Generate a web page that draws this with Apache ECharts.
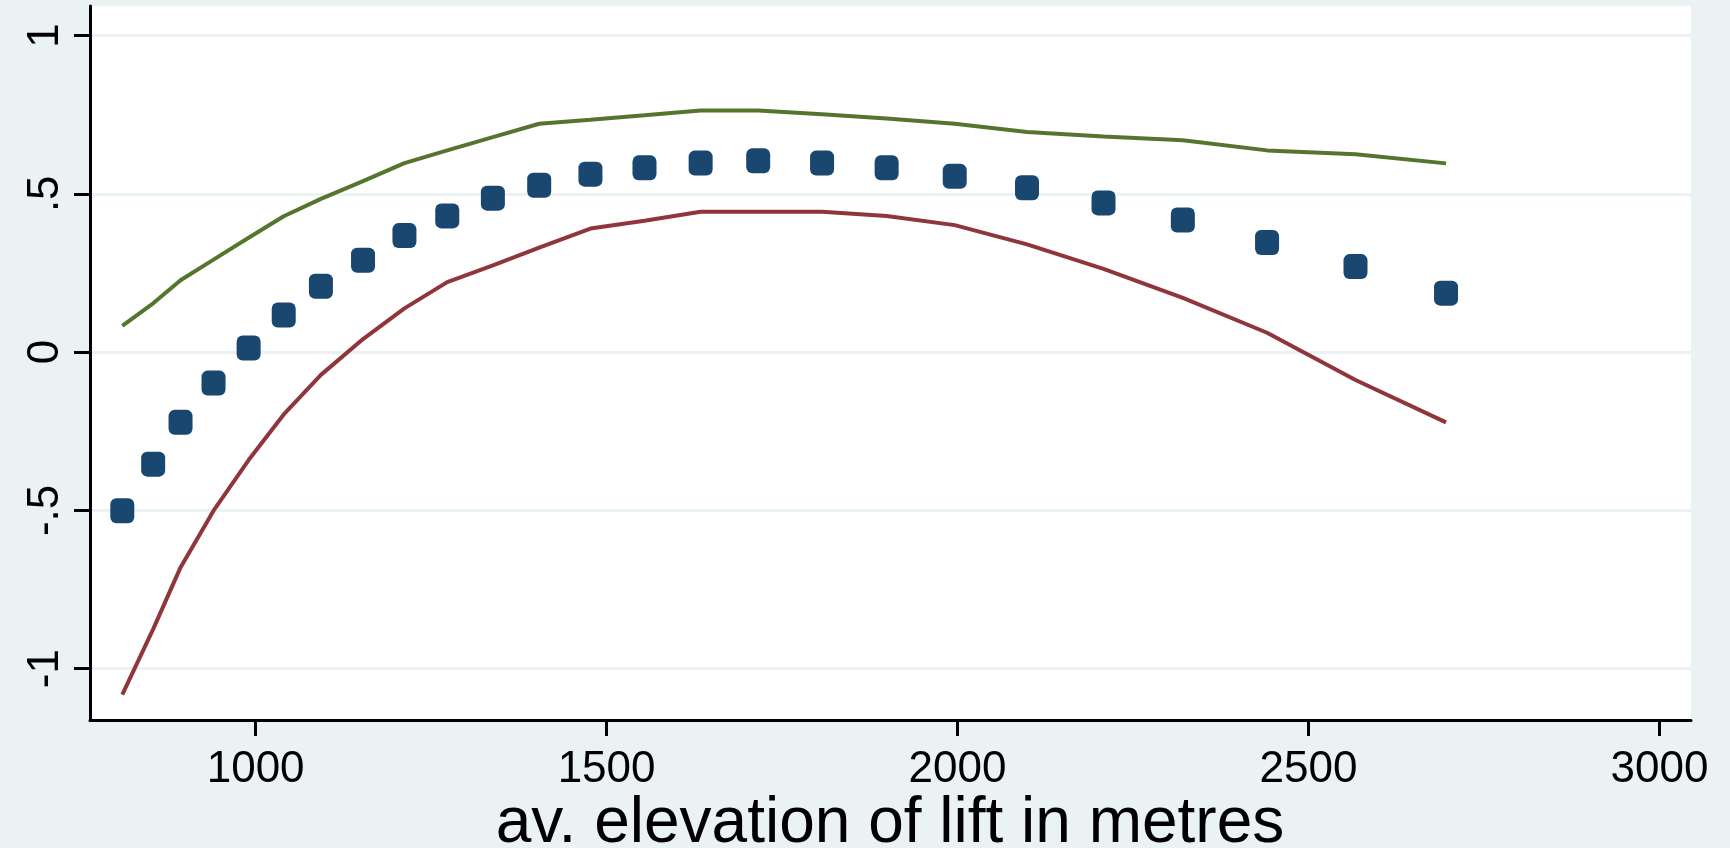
<!DOCTYPE html>
<html>
<head>
<meta charset="utf-8">
<script src="https://cdn.jsdelivr.net/npm/echarts@6/dist/echarts.min.js"></script>
<style>
html,body{margin:0;padding:0;background:#EAF2F3;}
#chart{width:1730px;height:848px;}
</style>
</head>
<body>
<div id="chart"></div>
<script>
// elevation (x) values shared by all series
const elevation = [810, 854, 893, 940, 990, 1040, 1093, 1153, 1212, 1273, 1338, 1404, 1477, 1554, 1634, 1716, 1807, 1899, 1996, 2099, 2208, 2321, 2441, 2567, 2696];
// point estimates (blue markers)
const estimate = [-0.501, -0.354, -0.222, -0.098, 0.013, 0.117, 0.208, 0.290, 0.368, 0.430, 0.486, 0.527, 0.562, 0.582, 0.597, 0.604, 0.597, 0.582, 0.555, 0.519, 0.471, 0.417, 0.346, 0.270, 0.186];
// upper bound (green line)
const upper = [0.083, 0.154, 0.227, 0.292, 0.361, 0.429, 0.484, 0.540, 0.597, 0.637, 0.679, 0.721, 0.734, 0.748, 0.763, 0.763, 0.751, 0.738, 0.721, 0.695, 0.681, 0.669, 0.637, 0.625, 0.596];
// lower bound (red line)
const lower = [-1.082, -0.875, -0.680, -0.501, -0.341, -0.197, -0.072, 0.041, 0.138, 0.221, 0.274, 0.330, 0.390, 0.415, 0.443, 0.443, 0.443, 0.430, 0.401, 0.340, 0.263, 0.171, 0.061, -0.088, -0.222];
// tick values
const xTicks = [1000, 1500, 2000, 2500, 3000];
const yTicks = [-1, -0.5, 0, 0.5, 1];
const xTitle = 'av. elevation of lift in metres';

function pairs(ys){ return elevation.map((x,i)=>[x, ys[i]]); }
function yFmt(v){
  let s = String(Math.round(v*10)/10);
  return s.replace('0.', '.');
}

const chart = echarts.init(document.getElementById('chart'), null, {renderer:'canvas'});
const font = '"Liberation Sans", Arial, Helvetica, sans-serif';
chart.setOption({
  animation: false,
  backgroundColor: '#EAF2F3',
  grid: {
    left: 90, right: 39, top: 6, bottom: 128,
    containLabel: false, outerBoundsMode: 'none',
    show: true, backgroundColor: '#ffffff', borderWidth: 0
  },
  graphic: [{
    type: 'text',
    x: 890, y: 824,
    silent: true,
    style: {
      text: xTitle,
      fill: '#000',
      fontSize: 64,
      fontFamily: font,
      align: 'center',
      verticalAlign: 'middle'
    }
  }],
  xAxis: {
    type: 'value',
    min: 764, max: 3045,
    axisLine: {show: true, onZero: false, lineStyle: {color: '#000', width: 3}},
    axisTick: {show: true, length: 16, lineStyle: {color: '#000', width: 3}, customValues: xTicks},
    axisLabel: {color: '#000', fontSize: 44, fontFamily: font, margin: 28, customValues: xTicks,
      formatter: v => String(v)},
    splitLine: {show: false}
  },
  yAxis: {
    type: 'value',
    min: -1.162, max: 1.093,
    axisLine: {show: true, onZero: false, lineStyle: {color: '#000', width: 3}},
    axisTick: {show: true, length: 16, lineStyle: {color: '#000', width: 3}, customValues: yTicks},
    axisLabel: {color: '#000', fontSize: 44, fontFamily: font, rotate: 90, margin: 22,
      customValues: yTicks, formatter: yFmt},
    splitLine: {show: true, lineStyle: {color: '#EAF2F3', width: 3}}
  },
  series: [
    {
      type: 'line', data: pairs(upper), showSymbol: false, symbol: 'none',
      lineStyle: {color: '#55752F', width: 4}, itemStyle: {color: '#55752F'}
    },
    {
      type: 'line', data: pairs(lower), showSymbol: false, symbol: 'none',
      lineStyle: {color: '#90353B', width: 4}, itemStyle: {color: '#90353B'}
    },
    {
      type: 'scatter', data: pairs(estimate), symbol: 'roundRect', symbolSize: [24, 25],
      itemStyle: {color: '#1A476F', opacity: 1}
    }
  ]
});
</script>
</body>
</html>
